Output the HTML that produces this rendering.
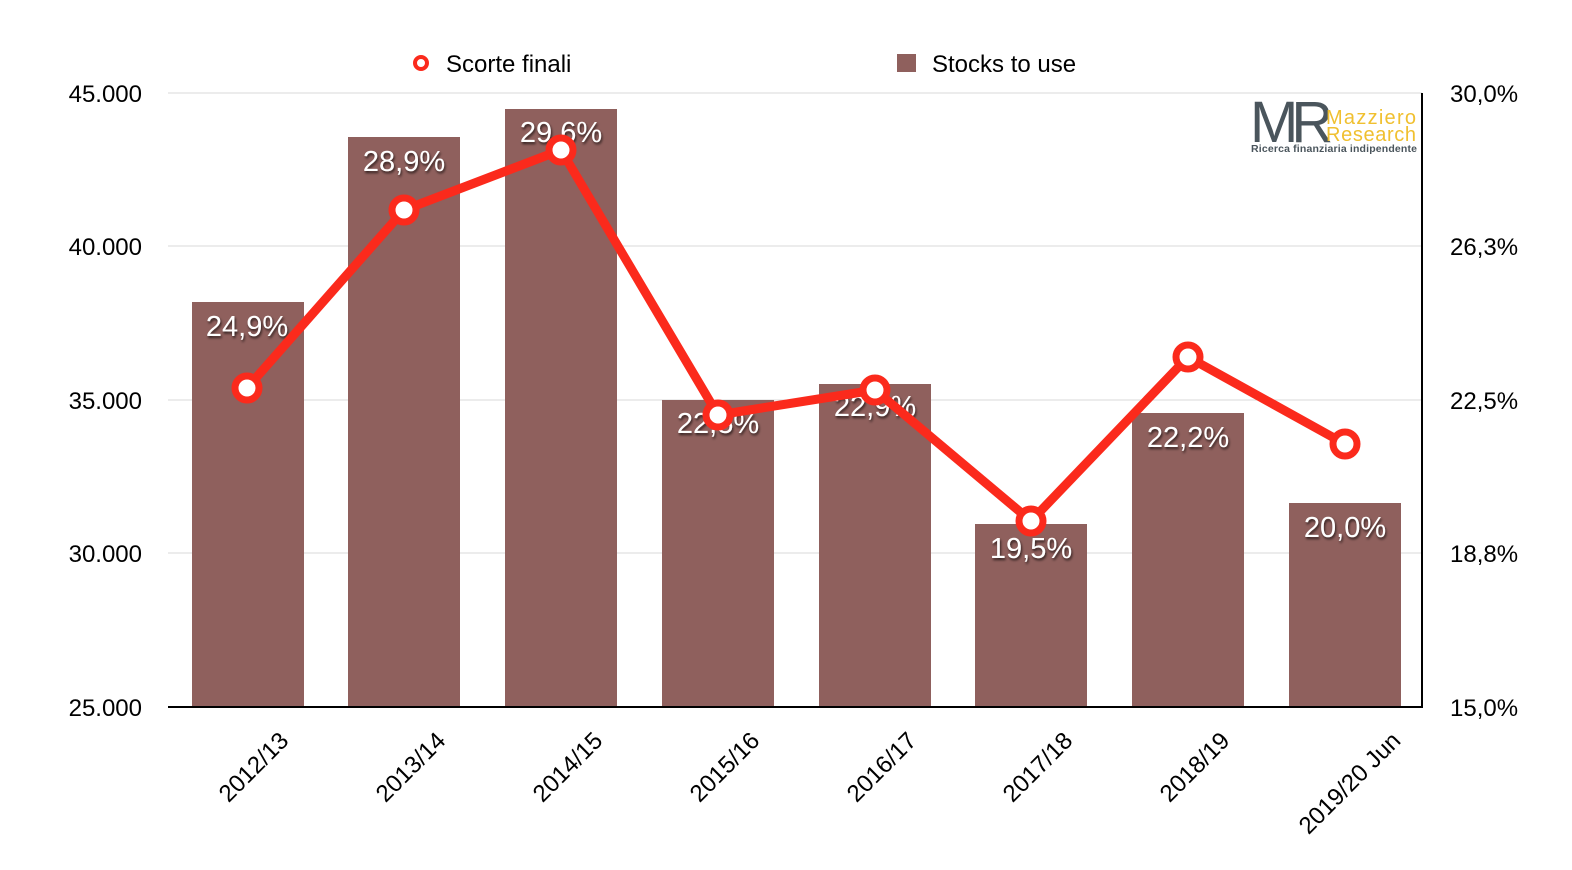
<!DOCTYPE html>
<html><head><meta charset="utf-8"><style>
html,body{margin:0;padding:0;background:#fff;}
svg{display:block;font-family:"Liberation Sans",Arial,sans-serif;}
</style></head><body>
<svg width="1572" height="870" viewBox="0 0 1572 870" xmlns="http://www.w3.org/2000/svg">
<defs>
<filter id="sh"><feDropShadow dx="1" dy="2" stdDeviation="1.2" flood-color="#000" flood-opacity="0.7"/></filter>
</defs>
<g stroke="#d8d8d8" stroke-width="1">
<line x1="168" y1="93" x2="1422" y2="93"/>
<line x1="168" y1="246" x2="1422" y2="246"/>
<line x1="168" y1="400" x2="1422" y2="400"/>
<line x1="168" y1="553" x2="1422" y2="553"/>
</g>
<g fill="#8f605d">
<rect x="192" y="302" width="112" height="405"/>
<rect x="348" y="137" width="112" height="570"/>
<rect x="505" y="109" width="112" height="598"/>
<rect x="662" y="400" width="112" height="307"/>
<rect x="819" y="384" width="112" height="323"/>
<rect x="975" y="524" width="112" height="183"/>
<rect x="1132" y="413" width="112" height="294"/>
<rect x="1289" y="503" width="112" height="204"/>
</g>
<line x1="168" y1="707" x2="1423" y2="707" stroke="#000" stroke-width="2"/>
<line x1="1422" y1="93" x2="1422" y2="708" stroke="#000" stroke-width="2"/>
<g font-size="24" fill="#000" text-anchor="end">
<text x="142" y="102">45.000</text>
<text x="142" y="255">40.000</text>
<text x="142" y="409">35.000</text>
<text x="142" y="562">30.000</text>
<text x="142" y="716">25.000</text>
</g>
<g font-size="24" fill="#000">
<text x="1450" y="102">30,0%</text>
<text x="1450" y="255">26,3%</text>
<text x="1450" y="409">22,5%</text>
<text x="1450" y="562">18,8%</text>
<text x="1450" y="716">15,0%</text>
</g>
<g font-size="29" fill="#fff" text-anchor="middle" filter="url(#sh)">
<text x="247" y="336">24,9%</text>
<text x="404" y="171">28,9%</text>
<text x="561" y="142">29,6%</text>
<text x="718" y="433">22,5%</text>
<text x="875" y="416">22,9%</text>
<text x="1031" y="558">19,5%</text>
<text x="1188" y="447">22,2%</text>
<text x="1345" y="537">20,0%</text>
</g>
<polyline points="247,388 404,210 561,150 718,415 875,390 1031,521 1188,357 1345,444" fill="none" stroke="#fb2a1c" stroke-width="9" stroke-linejoin="round"/>
<g fill="#fff" stroke="#fb2a1c" stroke-width="7">
<circle cx="247" cy="388" r="12"/><circle cx="404" cy="210" r="12"/><circle cx="561" cy="150" r="12"/><circle cx="718" cy="415" r="12"/>
<circle cx="875" cy="390" r="12"/><circle cx="1031" cy="521" r="12"/><circle cx="1188" cy="357" r="12"/><circle cx="1345" cy="444" r="12"/>
</g>
<g font-size="24" fill="#000" text-anchor="end">
<text transform="translate(290,742) rotate(-45)">2012/13</text>
<text transform="translate(447,742) rotate(-45)">2013/14</text>
<text transform="translate(604,742) rotate(-45)">2014/15</text>
<text transform="translate(761,742) rotate(-45)">2015/16</text>
<text transform="translate(918,742) rotate(-45)">2016/17</text>
<text transform="translate(1074,742) rotate(-45)">2017/18</text>
<text transform="translate(1231,742) rotate(-45)">2018/19</text>
<text transform="translate(1402,742) rotate(-45)">2019/20 Jun</text>
</g>
<circle cx="421" cy="63" r="6" fill="#fff" stroke="#fb2a1c" stroke-width="4"/>
<text x="446" y="72" font-size="24">Scorte finali</text>
<rect x="897" y="54" width="19" height="18" fill="#8f605d"/>
<text x="932" y="72" font-size="24">Stocks to use</text>
<text x="1250" y="142" font-size="58" fill="#4a555c" letter-spacing="-7">MR</text>
<text x="1326" y="124" font-size="20" fill="#f0c030" textLength="90">Mazziero</text>
<text x="1326" y="141" font-size="20" fill="#f0c030" textLength="90">Research</text>
<text x="1251" y="152" font-size="10.5" font-weight="bold" fill="#4a555c" textLength="166">Ricerca finanziaria indipendente</text>
</svg>
</body></html>
